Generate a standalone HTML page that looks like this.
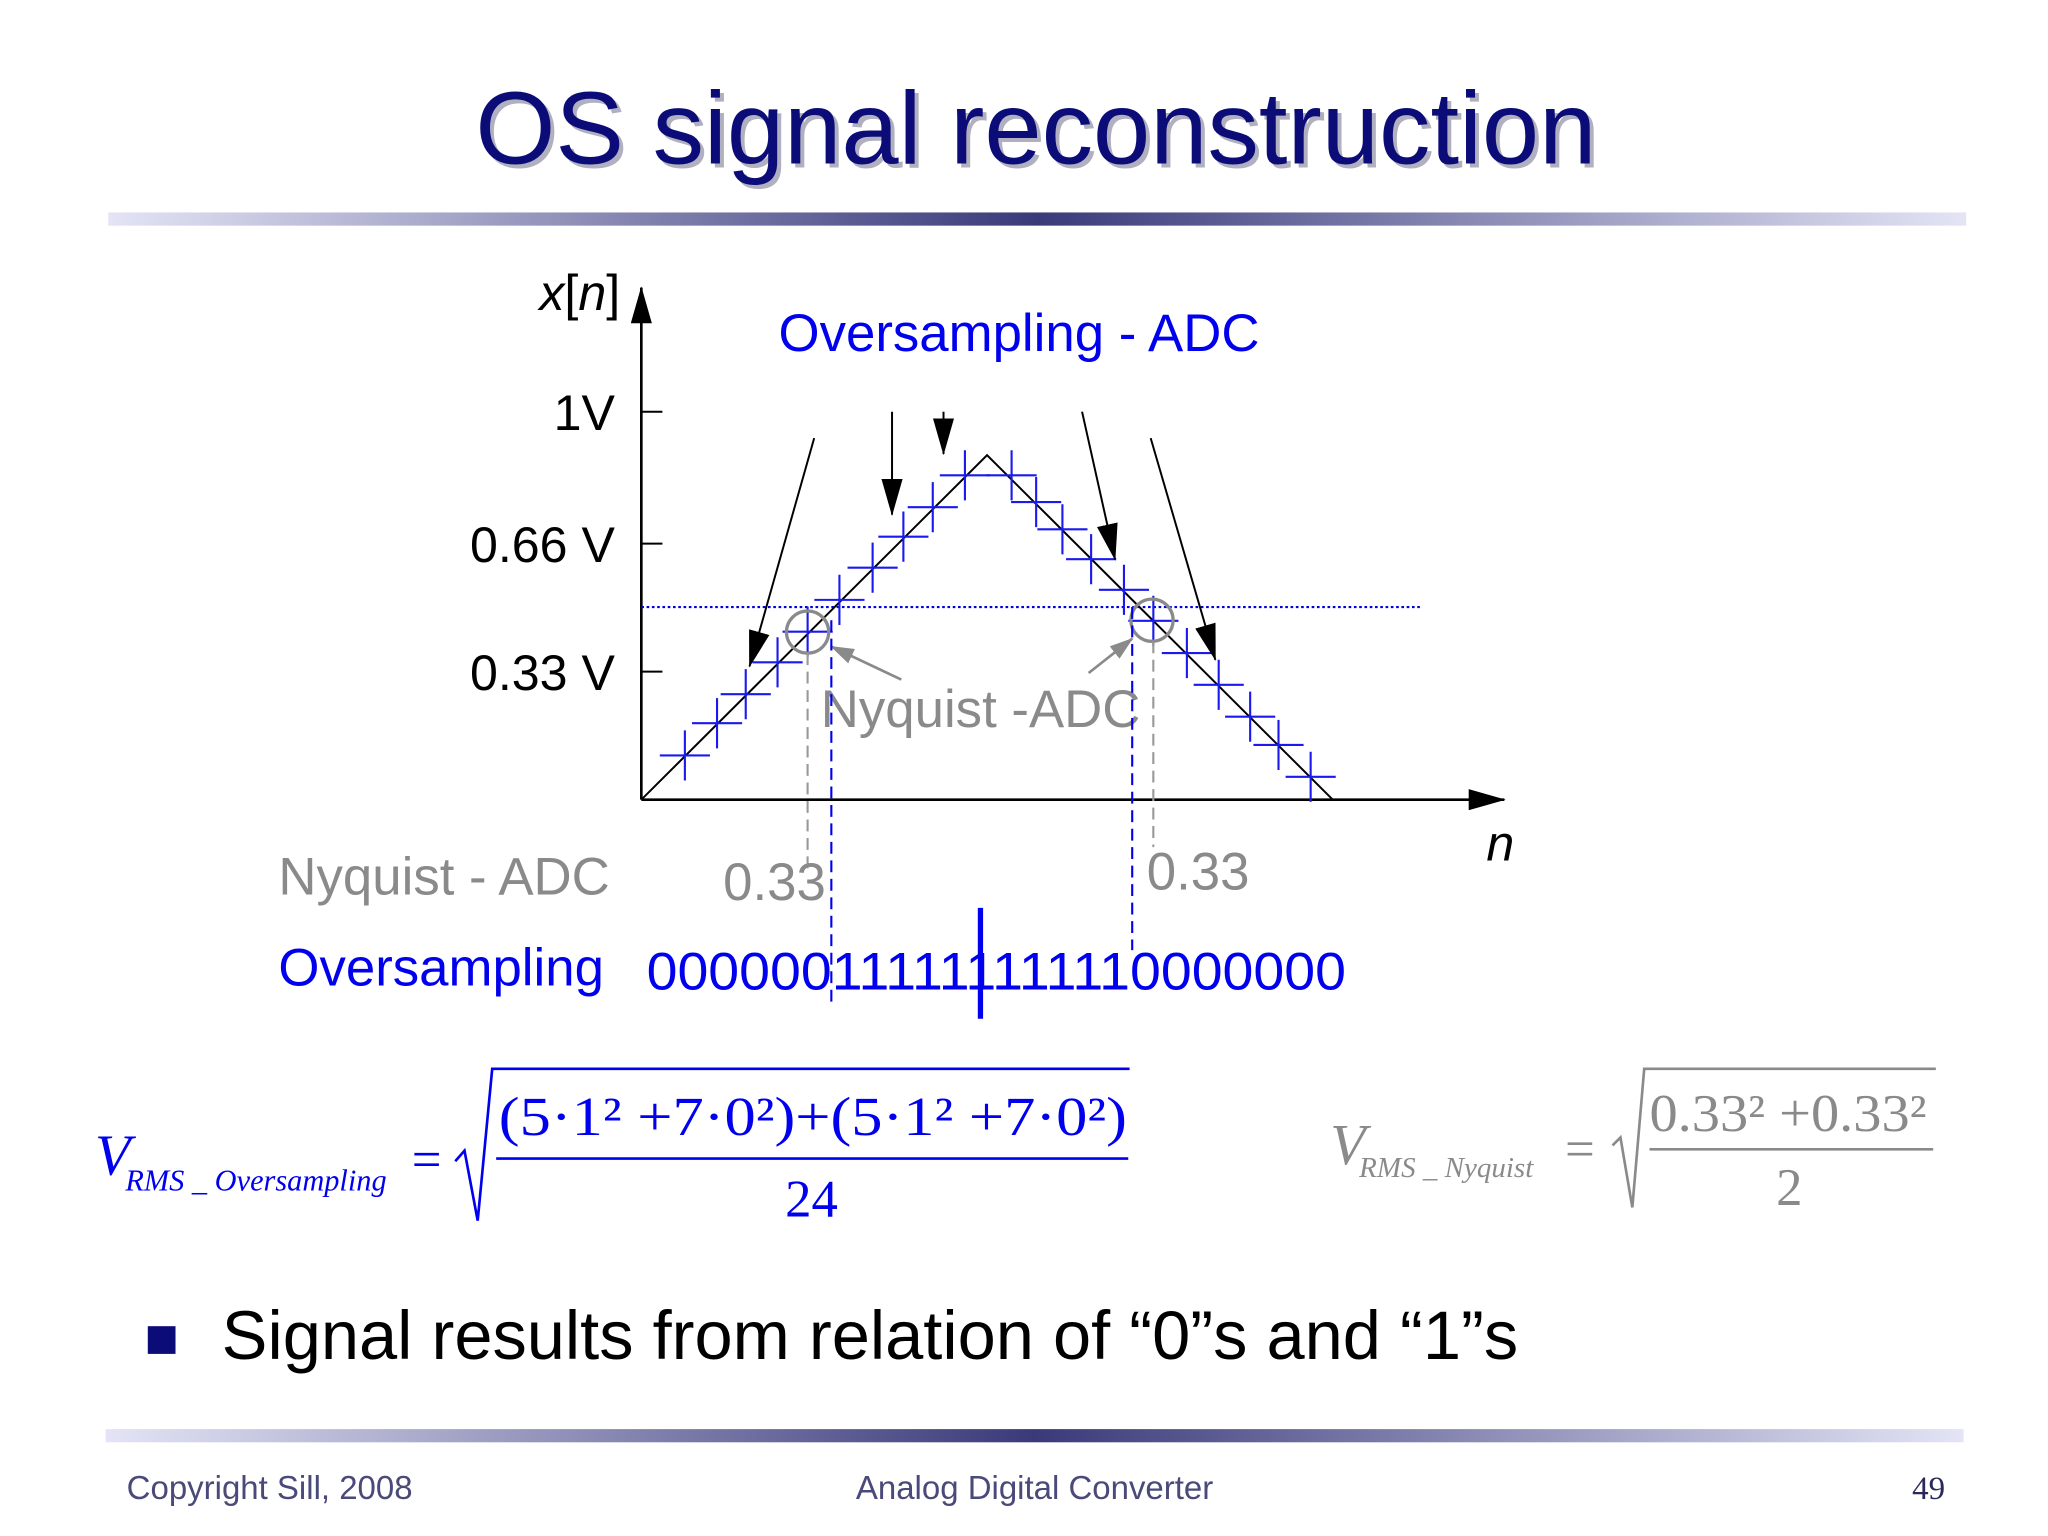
<!DOCTYPE html>
<html><head><meta charset="utf-8">
<style>
html,body{margin:0;padding:0;background:#fff;}
svg{display:block;}
text{font-family:"Liberation Sans",sans-serif;}
.serif{font-family:"Liberation Serif",serif;}
</style></head>
<body>
<svg id="slide" width="2048" height="1536" viewBox="0 0 1552 1164" xmlns="http://www.w3.org/2000/svg">
<defs>
<linearGradient id="bar" x1="0" x2="1" y1="0" y2="0">
<stop offset="0" stop-color="#e4e4f6"/><stop offset="0.5" stop-color="#3a3a7a"/><stop offset="1" stop-color="#e4e4f6"/>
</linearGradient>
<marker id="ahb" markerWidth="28" markerHeight="16" refX="27" refY="8" orient="auto" markerUnits="userSpaceOnUse"><path d="M0,0 L28,8 L0,16 z" fill="#000"/></marker>
<marker id="ahg" markerWidth="18" markerHeight="12" refX="17" refY="6" orient="auto" markerUnits="userSpaceOnUse"><path d="M0,0 L18,6 L0,12 z" fill="#8a8a8a"/></marker>
</defs>
<text x="788" y="127" text-anchor="middle" font-size="78" fill="#b0b0c0">OS signal reconstruction</text>
<text x="785" y="124" text-anchor="middle" font-size="78" fill="#0c0c78">OS signal reconstruction</text>
<rect x="82" y="161" width="1408" height="10" fill="url(#bar)"/>

<g id="chart">
<line x1="486" y1="606" x2="486" y2="218" stroke="#000" stroke-width="2" marker-end="url(#ahb)"/>
<line x1="486" y1="606" x2="1140" y2="606" stroke="#000" stroke-width="2" marker-end="url(#ahb)"/>
<g id="ticks"></g>
<text x="470" y="235" text-anchor="end" font-size="38"><tspan font-style="italic">x</tspan>[<tspan font-style="italic">n</tspan>]</text>
<text x="1137" y="652" text-anchor="middle" font-size="38" font-style="italic">n</text>
<text x="590" y="266" font-size="40" fill="#0000ee">Oversampling - ADC</text>
<line x1="486" y1="460" x2="1076" y2="460" stroke="#0000dd" stroke-width="1.6" stroke-dasharray="2,2"/>
<g id="signal"></g>
<g id="crosses"></g>
<g>
<line x1="617" y1="332" x2="568" y2="505" stroke="#000" stroke-width="1.5" marker-end="url(#ahb)"/>
<line x1="676" y1="312" x2="676" y2="390" stroke="#000" stroke-width="1.5" marker-end="url(#ahb)"/>
<line x1="715" y1="312" x2="715" y2="344" stroke="#000" stroke-width="1.5" marker-end="url(#ahb)"/>
<line x1="820" y1="312" x2="845" y2="424" stroke="#000" stroke-width="1.5" marker-end="url(#ahb)"/>
<line x1="872" y1="332" x2="921" y2="500" stroke="#000" stroke-width="1.5" marker-end="url(#ahb)"/>
</g>
<circle cx="612" cy="479" r="16" fill="none" stroke="#8a8a8a" stroke-width="2.5"/>
<circle cx="873" cy="470" r="16" fill="none" stroke="#8a8a8a" stroke-width="2.5"/>
<line x1="683" y1="515" x2="630" y2="490" stroke="#8a8a8a" stroke-width="2" marker-end="url(#ahg)"/>
<line x1="825" y1="510" x2="858" y2="484" stroke="#8a8a8a" stroke-width="2" marker-end="url(#ahg)"/>
<text x="622" y="551" font-size="40" fill="#8a8a8a">Nyquist -ADC</text>
<line x1="612" y1="495" x2="612" y2="660" stroke="#999" stroke-width="1.6" stroke-dasharray="9,5"/>
<line x1="630" y1="470" x2="630" y2="762" stroke="#0000ee" stroke-width="1.6" stroke-dasharray="9,5"/>
<line x1="858" y1="460" x2="858" y2="720" stroke="#0000ee" stroke-width="1.6" stroke-dasharray="9,5"/>
<line x1="874" y1="486" x2="874" y2="642" stroke="#999" stroke-width="1.6" stroke-dasharray="9,5"/>
</g>

<text x="211" y="678" font-size="40" fill="#8a8a8a">Nyquist - ADC</text>
<text x="548" y="682" font-size="40" fill="#8a8a8a">0.33</text>
<text x="869" y="674" font-size="40" fill="#8a8a8a">0.33</text>
<text x="211" y="747" font-size="40" fill="#0000ee">Oversampling</text>
<text x="490" y="750" font-size="40" fill="#0000ee" textLength="530" lengthAdjust="spacingAndGlyphs">000000111111111110000000</text>
<line x1="743" y1="688" x2="743" y2="772" stroke="#0000ee" stroke-width="4"/>

<g>
<text class="serif" x="72" y="890" font-size="44" font-style="italic" fill="#0000ee">V</text>
<text class="serif" x="95" y="902" font-size="23" font-style="italic" fill="#0000ee">RMS _ Oversampling</text>
<text class="serif" x="312" y="892" font-size="40" fill="#0000ee">=</text>
<path d="M345,880 L352,872 L362,925 L373,810 L856,810" fill="none" stroke="#0000ee" stroke-width="2"/>
<text class="serif" x="378" y="860" font-size="42" fill="#0000ee" textLength="476" lengthAdjust="spacingAndGlyphs">(5·1² +7·0²)+(5·1² +7·0²)</text>
<line x1="376" y1="878" x2="855" y2="878" stroke="#0000ee" stroke-width="2"/>
<text class="serif" x="615" y="922" font-size="40" text-anchor="middle" fill="#0000ee">24</text>
</g>
<g>
<text class="serif" x="1008" y="882" font-size="44" font-style="italic" fill="#8a8a8a">V</text>
<text class="serif" x="1030" y="892" font-size="22" font-style="italic" fill="#8a8a8a">RMS _ Nyquist</text>
<text class="serif" x="1186" y="884" font-size="40" fill="#8a8a8a">=</text>
<path d="M1222,868 L1228,862 L1237,915 L1246,810 L1467,810" fill="none" stroke="#8a8a8a" stroke-width="2"/>
<text class="serif" x="1250" y="857" font-size="40" fill="#8a8a8a" textLength="210" lengthAdjust="spacingAndGlyphs">0.33² +0.33²</text>
<line x1="1250" y1="871" x2="1465" y2="871" stroke="#8a8a8a" stroke-width="2"/>
<text class="serif" x="1356" y="913" font-size="40" text-anchor="middle" fill="#8a8a8a">2</text>
</g>

<rect x="112" y="1005" width="21" height="21" fill="#0c0c78"/>
<text x="168" y="1030" font-size="52" fill="#000">Signal results from relation of “0”s and “1”s</text>
<rect x="80" y="1083" width="1408" height="10" fill="url(#bar)"/>
<text x="96" y="1136" font-size="25" fill="#4a4a7a">Copyright Sill, 2008</text>
<text x="784" y="1136" font-size="25" text-anchor="middle" fill="#4a4a7a">Analog Digital Converter</text>
<text x="1474" y="1136" font-size="25" text-anchor="end" class="serif" fill="#2a2a5a">49</text>
</svg>
<script>
const tickValues=[1,0.66,0.33];
const tickLabels=["1V","0.66 V","0.33 V"];
const signalT=[0,1,2];
const signalV=[0,0.888,0];
const crossT=[0.126,0.219,0.302,0.394,0.481,0.573,0.669,0.758,0.843,0.936,1.071,1.142,1.218,1.301,1.396,1.481,1.578,1.670,1.761,1.843,1.936];
const crossV=[0.114,0.197,0.272,0.354,0.433,0.515,0.598,0.678,0.754,0.836,0.836,0.767,0.697,0.620,0.541,0.461,0.378,0.296,0.214,0.141,0.059];
const NS="http://www.w3.org/2000/svg";
const X0=486,XU=262,Y0=606,YU=294;
function sx(t){return X0+t*XU;}
function sy(v){return Y0-v*YU;}
function mk(tag,attrs,parent){const e=document.createElementNS(NS,tag);for(const k in attrs)e.setAttribute(k,attrs[k]);parent.appendChild(e);return e;}
const ticks=document.getElementById('ticks');
tickValues.forEach((v,i)=>{
 const l=mk('line',{x1:X0,x2:X0+16,y1:sy(v),y2:sy(v),stroke:'#000','stroke-width':1.5},ticks);
 
 
 const t=mk('text',{x:466,y:sy(v)+14,'text-anchor':'end','font-size':38},ticks);
 t.textContent=tickLabels[i];
 
 
});
const sig=document.getElementById('signal');
const p=mk('polyline',{points:signalT.map((t,i)=>sx(t)+','+sy(signalV[i])).join(' '),fill:'none',stroke:'#000','stroke-width':1.5},sig);


const cr=document.getElementById('crosses');
crossT.forEach((t,i)=>{
 const x=sx(t),y=sy(crossV[i]);
 const g=mk('path',{d:`M${x-19},${y}H${x+19}M${x},${y-19}V${y+19}`,stroke:'#1a1aee','stroke-width':1.6,fill:'none'},cr);
 
 
});
</script>
</body></html>
